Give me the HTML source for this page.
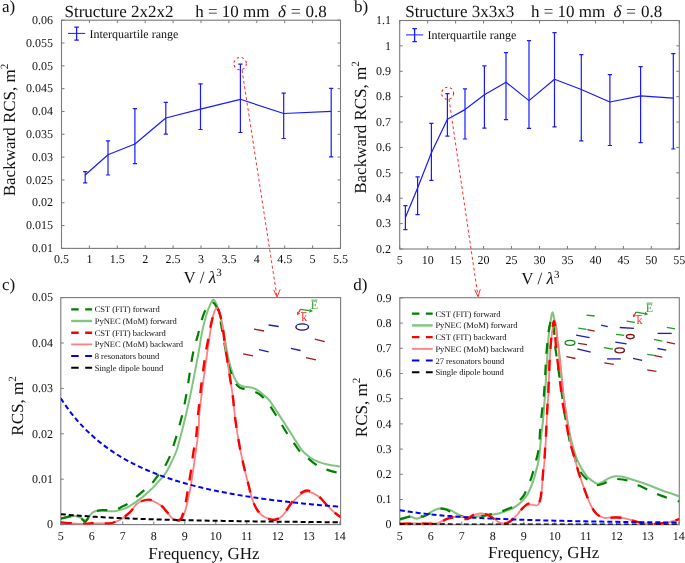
<!DOCTYPE html>
<html><head><meta charset="utf-8"><style>
html,body{margin:0;padding:0;background:#fff;}
svg{display:block;will-change:transform;}
text{font-family:"Liberation Serif",serif;fill:#111;text-rendering:geometricPrecision;}
</style></head><body>
<svg width="685" height="563" viewBox="0 0 685 563">
<rect width="685" height="563" fill="#fff"/>
<rect x="61.5" y="20.2" width="279.0" height="228.20000000000002" fill="none" stroke="#7a7a7a" stroke-width="1.1"/>
<path d="M61.50,248.4 v-3 M61.50,20.2 v3" stroke="#7a7a7a" stroke-width="1"/>
<path d="M89.40,248.4 v-3 M89.40,20.2 v3" stroke="#7a7a7a" stroke-width="1"/>
<path d="M117.30,248.4 v-3 M117.30,20.2 v3" stroke="#7a7a7a" stroke-width="1"/>
<path d="M145.20,248.4 v-3 M145.20,20.2 v3" stroke="#7a7a7a" stroke-width="1"/>
<path d="M173.10,248.4 v-3 M173.10,20.2 v3" stroke="#7a7a7a" stroke-width="1"/>
<path d="M201.00,248.4 v-3 M201.00,20.2 v3" stroke="#7a7a7a" stroke-width="1"/>
<path d="M228.90,248.4 v-3 M228.90,20.2 v3" stroke="#7a7a7a" stroke-width="1"/>
<path d="M256.80,248.4 v-3 M256.80,20.2 v3" stroke="#7a7a7a" stroke-width="1"/>
<path d="M284.70,248.4 v-3 M284.70,20.2 v3" stroke="#7a7a7a" stroke-width="1"/>
<path d="M312.60,248.4 v-3 M312.60,20.2 v3" stroke="#7a7a7a" stroke-width="1"/>
<path d="M340.50,248.4 v-3 M340.50,20.2 v3" stroke="#7a7a7a" stroke-width="1"/>
<path d="M61.5,20.20 h3 M340.5,20.20 h-3" stroke="#7a7a7a" stroke-width="1"/>
<path d="M61.5,43.02 h3 M340.5,43.02 h-3" stroke="#7a7a7a" stroke-width="1"/>
<path d="M61.5,65.84 h3 M340.5,65.84 h-3" stroke="#7a7a7a" stroke-width="1"/>
<path d="M61.5,88.66 h3 M340.5,88.66 h-3" stroke="#7a7a7a" stroke-width="1"/>
<path d="M61.5,111.48 h3 M340.5,111.48 h-3" stroke="#7a7a7a" stroke-width="1"/>
<path d="M61.5,134.30 h3 M340.5,134.30 h-3" stroke="#7a7a7a" stroke-width="1"/>
<path d="M61.5,157.12 h3 M340.5,157.12 h-3" stroke="#7a7a7a" stroke-width="1"/>
<path d="M61.5,179.94 h3 M340.5,179.94 h-3" stroke="#7a7a7a" stroke-width="1"/>
<path d="M61.5,202.76 h3 M340.5,202.76 h-3" stroke="#7a7a7a" stroke-width="1"/>
<path d="M61.5,225.58 h3 M340.5,225.58 h-3" stroke="#7a7a7a" stroke-width="1"/>
<path d="M61.5,248.40 h3 M340.5,248.40 h-3" stroke="#7a7a7a" stroke-width="1"/>
<text x="61.50" y="263.00" font-size="12" text-anchor="middle" >0.5</text>
<text x="89.40" y="263.00" font-size="12" text-anchor="middle" >1</text>
<text x="117.30" y="263.00" font-size="12" text-anchor="middle" >1.5</text>
<text x="145.20" y="263.00" font-size="12" text-anchor="middle" >2</text>
<text x="173.10" y="263.00" font-size="12" text-anchor="middle" >2.5</text>
<text x="201.00" y="263.00" font-size="12" text-anchor="middle" >3</text>
<text x="228.90" y="263.00" font-size="12" text-anchor="middle" >3.5</text>
<text x="256.80" y="263.00" font-size="12" text-anchor="middle" >4</text>
<text x="284.70" y="263.00" font-size="12" text-anchor="middle" >4.5</text>
<text x="312.60" y="263.00" font-size="12" text-anchor="middle" >5</text>
<text x="340.50" y="263.00" font-size="12" text-anchor="middle" >5.5</text>
<text x="53.00" y="23.90" font-size="12" text-anchor="end" >0.06</text>
<text x="53.00" y="46.72" font-size="12" text-anchor="end" >0.055</text>
<text x="53.00" y="69.54" font-size="12" text-anchor="end" >0.05</text>
<text x="53.00" y="92.36" font-size="12" text-anchor="end" >0.045</text>
<text x="53.00" y="115.18" font-size="12" text-anchor="end" >0.04</text>
<text x="53.00" y="138.00" font-size="12" text-anchor="end" >0.035</text>
<text x="53.00" y="160.82" font-size="12" text-anchor="end" >0.03</text>
<text x="53.00" y="183.64" font-size="12" text-anchor="end" >0.025</text>
<text x="53.00" y="206.46" font-size="12" text-anchor="end" >0.02</text>
<text x="53.00" y="229.28" font-size="12" text-anchor="end" >0.015</text>
<text x="53.00" y="252.10" font-size="12" text-anchor="end" >0.01</text>
<rect x="399.7" y="20.5" width="279.59999999999997" height="228.5" fill="none" stroke="#7a7a7a" stroke-width="1.1"/>
<path d="M399.70,249.0 v-3 M399.70,20.5 v3" stroke="#7a7a7a" stroke-width="1"/>
<path d="M427.66,249.0 v-3 M427.66,20.5 v3" stroke="#7a7a7a" stroke-width="1"/>
<path d="M455.62,249.0 v-3 M455.62,20.5 v3" stroke="#7a7a7a" stroke-width="1"/>
<path d="M483.58,249.0 v-3 M483.58,20.5 v3" stroke="#7a7a7a" stroke-width="1"/>
<path d="M511.54,249.0 v-3 M511.54,20.5 v3" stroke="#7a7a7a" stroke-width="1"/>
<path d="M539.50,249.0 v-3 M539.50,20.5 v3" stroke="#7a7a7a" stroke-width="1"/>
<path d="M567.46,249.0 v-3 M567.46,20.5 v3" stroke="#7a7a7a" stroke-width="1"/>
<path d="M595.42,249.0 v-3 M595.42,20.5 v3" stroke="#7a7a7a" stroke-width="1"/>
<path d="M623.38,249.0 v-3 M623.38,20.5 v3" stroke="#7a7a7a" stroke-width="1"/>
<path d="M651.34,249.0 v-3 M651.34,20.5 v3" stroke="#7a7a7a" stroke-width="1"/>
<path d="M679.30,249.0 v-3 M679.30,20.5 v3" stroke="#7a7a7a" stroke-width="1"/>
<path d="M399.7,20.50 h3 M679.3,20.50 h-3" stroke="#7a7a7a" stroke-width="1"/>
<path d="M399.7,45.89 h3 M679.3,45.89 h-3" stroke="#7a7a7a" stroke-width="1"/>
<path d="M399.7,71.28 h3 M679.3,71.28 h-3" stroke="#7a7a7a" stroke-width="1"/>
<path d="M399.7,96.67 h3 M679.3,96.67 h-3" stroke="#7a7a7a" stroke-width="1"/>
<path d="M399.7,122.06 h3 M679.3,122.06 h-3" stroke="#7a7a7a" stroke-width="1"/>
<path d="M399.7,147.45 h3 M679.3,147.45 h-3" stroke="#7a7a7a" stroke-width="1"/>
<path d="M399.7,172.84 h3 M679.3,172.84 h-3" stroke="#7a7a7a" stroke-width="1"/>
<path d="M399.7,198.23 h3 M679.3,198.23 h-3" stroke="#7a7a7a" stroke-width="1"/>
<path d="M399.7,223.62 h3 M679.3,223.62 h-3" stroke="#7a7a7a" stroke-width="1"/>
<path d="M399.7,249.01 h3 M679.3,249.01 h-3" stroke="#7a7a7a" stroke-width="1"/>
<text x="399.70" y="263.50" font-size="12" text-anchor="middle" >5</text>
<text x="427.66" y="263.50" font-size="12" text-anchor="middle" >10</text>
<text x="455.62" y="263.50" font-size="12" text-anchor="middle" >15</text>
<text x="483.58" y="263.50" font-size="12" text-anchor="middle" >20</text>
<text x="511.54" y="263.50" font-size="12" text-anchor="middle" >25</text>
<text x="539.50" y="263.50" font-size="12" text-anchor="middle" >30</text>
<text x="567.46" y="263.50" font-size="12" text-anchor="middle" >35</text>
<text x="595.42" y="263.50" font-size="12" text-anchor="middle" >40</text>
<text x="623.38" y="263.50" font-size="12" text-anchor="middle" >45</text>
<text x="651.34" y="263.50" font-size="12" text-anchor="middle" >50</text>
<text x="679.30" y="263.50" font-size="12" text-anchor="middle" >55</text>
<text x="391.00" y="24.20" font-size="12" text-anchor="end" >1.1</text>
<text x="391.00" y="49.59" font-size="12" text-anchor="end" >1</text>
<text x="391.00" y="74.98" font-size="12" text-anchor="end" >0.9</text>
<text x="391.00" y="100.37" font-size="12" text-anchor="end" >0.8</text>
<text x="391.00" y="125.76" font-size="12" text-anchor="end" >0.7</text>
<text x="391.00" y="151.15" font-size="12" text-anchor="end" >0.6</text>
<text x="391.00" y="176.54" font-size="12" text-anchor="end" >0.5</text>
<text x="391.00" y="201.93" font-size="12" text-anchor="end" >0.4</text>
<text x="391.00" y="227.32" font-size="12" text-anchor="end" >0.3</text>
<text x="391.00" y="252.71" font-size="12" text-anchor="end" >0.2</text>
<path d="M85.20,175.00 L108.00,154.70 L134.90,144.00 L165.80,118.00 L200.50,109.10 L240.40,99.30 L283.70,113.50 L331.20,111.30" fill="none" stroke="#1a1aff" stroke-width="1.2" stroke-linejoin="round"/>
<path d="M85.20,171.70 V182.90 M83.10,171.70 h4.2 M83.10,182.90 h4.2" stroke="#1a1aff" stroke-width="1.2" fill="none"/>
<path d="M108.00,140.80 V175.00 M105.90,140.80 h4.2 M105.90,175.00 h4.2" stroke="#1a1aff" stroke-width="1.2" fill="none"/>
<path d="M134.90,108.70 V163.60 M132.80,108.70 h4.2 M132.80,163.60 h4.2" stroke="#1a1aff" stroke-width="1.2" fill="none"/>
<path d="M165.80,102.30 V134.20 M163.70,102.30 h4.2 M163.70,134.20 h4.2" stroke="#1a1aff" stroke-width="1.2" fill="none"/>
<path d="M200.50,83.90 V129.50 M198.40,83.90 h4.2 M198.40,129.50 h4.2" stroke="#1a1aff" stroke-width="1.2" fill="none"/>
<path d="M240.40,64.20 V132.50 M238.30,64.20 h4.2 M238.30,132.50 h4.2" stroke="#1a1aff" stroke-width="1.2" fill="none"/>
<path d="M283.70,93.10 V138.50 M281.60,93.10 h4.2 M281.60,138.50 h4.2" stroke="#1a1aff" stroke-width="1.2" fill="none"/>
<path d="M331.20,88.30 V156.90 M329.10,88.30 h4.2 M329.10,156.90 h4.2" stroke="#1a1aff" stroke-width="1.2" fill="none"/>
<path d="M405.40,217.40 L417.60,188.00 L431.40,152.80 L447.40,119.20 L465.00,109.60 L484.40,94.70 L506.00,82.20 L529.00,100.60 L554.50,79.30 L581.30,89.50 L609.90,102.00 L640.60,95.90 L673.30,98.20" fill="none" stroke="#1a1aff" stroke-width="1.2" stroke-linejoin="round"/>
<path d="M405.40,205.60 V229.60 M403.30,205.60 h4.2 M403.30,229.60 h4.2" stroke="#1a1aff" stroke-width="1.2" fill="none"/>
<path d="M417.60,176.80 V214.60 M415.50,176.80 h4.2 M415.50,214.60 h4.2" stroke="#1a1aff" stroke-width="1.2" fill="none"/>
<path d="M431.40,123.40 V180.30 M429.30,123.40 h4.2 M429.30,180.30 h4.2" stroke="#1a1aff" stroke-width="1.2" fill="none"/>
<path d="M447.40,93.60 V136.20 M445.30,93.60 h4.2 M445.30,136.20 h4.2" stroke="#1a1aff" stroke-width="1.2" fill="none"/>
<path d="M465.00,88.80 V139.00 M462.90,88.80 h4.2 M462.90,139.00 h4.2" stroke="#1a1aff" stroke-width="1.2" fill="none"/>
<path d="M484.40,65.80 V128.20 M482.30,65.80 h4.2 M482.30,128.20 h4.2" stroke="#1a1aff" stroke-width="1.2" fill="none"/>
<path d="M506.00,52.70 V119.60 M503.90,52.70 h4.2 M503.90,119.60 h4.2" stroke="#1a1aff" stroke-width="1.2" fill="none"/>
<path d="M529.00,40.70 V128.30 M526.90,40.70 h4.2 M526.90,128.30 h4.2" stroke="#1a1aff" stroke-width="1.2" fill="none"/>
<path d="M554.50,32.60 V126.90 M552.40,32.60 h4.2 M552.40,126.90 h4.2" stroke="#1a1aff" stroke-width="1.2" fill="none"/>
<path d="M581.30,54.70 V140.90 M579.20,54.70 h4.2 M579.20,140.90 h4.2" stroke="#1a1aff" stroke-width="1.2" fill="none"/>
<path d="M609.90,74.60 V145.50 M607.80,74.60 h4.2 M607.80,145.50 h4.2" stroke="#1a1aff" stroke-width="1.2" fill="none"/>
<path d="M640.60,66.70 V142.60 M638.50,66.70 h4.2 M638.50,142.60 h4.2" stroke="#1a1aff" stroke-width="1.2" fill="none"/>
<path d="M673.30,53.60 V149.00 M671.20,53.60 h4.2 M671.20,149.00 h4.2" stroke="#1a1aff" stroke-width="1.2" fill="none"/>
<path d="M68,33.4 h17.2" stroke="#1a1aff" stroke-width="1.0" fill="none"/>
<path d="M76.60,27.10 v13 M74.30,27.10 h4.6 M74.30,40.10 h4.6" stroke="#1a1aff" stroke-width="1.3" fill="none"/>
<text x="89.40" y="37.80" font-size="12" text-anchor="start" >Interquartile range</text>
<path d="M406,34.9 h17.2" stroke="#1a1aff" stroke-width="1.0" fill="none"/>
<path d="M414.60,28.60 v13 M412.30,28.60 h4.6 M412.30,41.60 h4.6" stroke="#1a1aff" stroke-width="1.3" fill="none"/>
<text x="427.40" y="39.10" font-size="12" text-anchor="start" >Interquartile range</text>
<text x="64.5" y="16.7" font-size="17">Structure 2x2x2</text>
<text x="195.2" y="16.7" font-size="17">h = 10 mm</text>
<text x="278.1" y="16.7" font-size="17" font-style="italic">δ</text>
<text x="290.70" y="16.7" font-size="17" textLength="10" lengthAdjust="spacingAndGlyphs">=</text>
<text x="305.50" y="16.7" font-size="17">0.8</text>
<text x="405.2" y="16.7" font-size="17">Structure 3x3x3</text>
<text x="531" y="16.7" font-size="17">h = 10 mm</text>
<text x="613.5" y="16.7" font-size="17" font-style="italic">δ</text>
<text x="626.10" y="16.7" font-size="17" textLength="10" lengthAdjust="spacingAndGlyphs">=</text>
<text x="640.90" y="16.7" font-size="17">0.8</text>
<text x="2.00" y="12.00" font-size="17" text-anchor="start" >a)</text>
<text x="354.00" y="12.00" font-size="17" text-anchor="start" >b)</text>
<text x="2.00" y="290.00" font-size="17" text-anchor="start" >c)</text>
<text x="353.20" y="289.50" font-size="17" text-anchor="start" >d)</text>
<text transform="translate(14.5,130) rotate(-90)" x="0" y="0" font-size="17" text-anchor="middle">Backward RCS, m<tspan font-size="11" dy="-7">2</tspan></text>
<text transform="translate(366.3,127.5) rotate(-90)" x="0" y="0" font-size="17" text-anchor="middle">Backward RCS, m<tspan font-size="11" dy="-7">2</tspan></text>
<text transform="translate(23.3,406) rotate(-90)" x="0" y="0" font-size="17" text-anchor="middle">RCS, m<tspan font-size="11" dy="-7">2</tspan></text>
<text transform="translate(367.2,407.5) rotate(-90)" x="0" y="0" font-size="17" text-anchor="middle">RCS, m<tspan font-size="11" dy="-7">2</tspan></text>
<text x="183.6" y="283.4" font-size="17">V / <tspan font-style="italic">λ</tspan><tspan font-size="11" dy="-7">3</tspan></text>
<text x="521.3" y="283.6" font-size="17">V / <tspan font-style="italic">λ</tspan><tspan font-size="11" dy="-5.8">3</tspan></text>
<text x="148.30" y="558.50" font-size="17" text-anchor="start" >Frequency, GHz</text>
<text x="488.10" y="557.50" font-size="17" text-anchor="start" >Frequency, GHz</text>
<rect x="60.8" y="297.6" width="279.8" height="227.0" fill="none" stroke="#7a7a7a" stroke-width="1.1"/>
<path d="M60.80,524.6 v-3" stroke="#7a7a7a" stroke-width="1"/>
<path d="M91.80,524.6 v-3" stroke="#7a7a7a" stroke-width="1"/>
<path d="M122.80,524.6 v-3" stroke="#7a7a7a" stroke-width="1"/>
<path d="M153.80,524.6 v-3" stroke="#7a7a7a" stroke-width="1"/>
<path d="M184.80,524.6 v-3" stroke="#7a7a7a" stroke-width="1"/>
<path d="M215.80,524.6 v-3" stroke="#7a7a7a" stroke-width="1"/>
<path d="M246.80,524.6 v-3" stroke="#7a7a7a" stroke-width="1"/>
<path d="M277.80,524.6 v-3" stroke="#7a7a7a" stroke-width="1"/>
<path d="M308.80,524.6 v-3" stroke="#7a7a7a" stroke-width="1"/>
<path d="M339.80,524.6 v-3" stroke="#7a7a7a" stroke-width="1"/>
<path d="M60.8,524.60 h3" stroke="#7a7a7a" stroke-width="1"/>
<path d="M60.8,479.20 h3" stroke="#7a7a7a" stroke-width="1"/>
<path d="M60.8,433.80 h3" stroke="#7a7a7a" stroke-width="1"/>
<path d="M60.8,388.40 h3" stroke="#7a7a7a" stroke-width="1"/>
<path d="M60.8,343.00 h3" stroke="#7a7a7a" stroke-width="1"/>
<path d="M60.8,297.60 h3" stroke="#7a7a7a" stroke-width="1"/>
<text x="60.80" y="539.60" font-size="12" text-anchor="middle" >5</text>
<text x="91.80" y="539.60" font-size="12" text-anchor="middle" >6</text>
<text x="122.80" y="539.60" font-size="12" text-anchor="middle" >7</text>
<text x="153.80" y="539.60" font-size="12" text-anchor="middle" >8</text>
<text x="184.80" y="539.60" font-size="12" text-anchor="middle" >9</text>
<text x="215.80" y="539.60" font-size="12" text-anchor="middle" >10</text>
<text x="246.80" y="539.60" font-size="12" text-anchor="middle" >11</text>
<text x="277.80" y="539.60" font-size="12" text-anchor="middle" >12</text>
<text x="308.80" y="539.60" font-size="12" text-anchor="middle" >13</text>
<text x="339.80" y="539.60" font-size="12" text-anchor="middle" >14</text>
<text x="53.00" y="528.30" font-size="12" text-anchor="end" >0</text>
<text x="53.00" y="482.90" font-size="12" text-anchor="end" >0.01</text>
<text x="53.00" y="437.50" font-size="12" text-anchor="end" >0.02</text>
<text x="53.00" y="392.10" font-size="12" text-anchor="end" >0.03</text>
<text x="53.00" y="346.70" font-size="12" text-anchor="end" >0.04</text>
<text x="53.00" y="301.30" font-size="12" text-anchor="end" >0.05</text>
<rect x="399.8" y="297.7" width="279.49999999999994" height="227.00000000000006" fill="none" stroke="#7a7a7a" stroke-width="1.1"/>
<path d="M399.80,524.7 v-3" stroke="#7a7a7a" stroke-width="1"/>
<path d="M430.80,524.7 v-3" stroke="#7a7a7a" stroke-width="1"/>
<path d="M461.80,524.7 v-3" stroke="#7a7a7a" stroke-width="1"/>
<path d="M492.80,524.7 v-3" stroke="#7a7a7a" stroke-width="1"/>
<path d="M523.80,524.7 v-3" stroke="#7a7a7a" stroke-width="1"/>
<path d="M554.80,524.7 v-3" stroke="#7a7a7a" stroke-width="1"/>
<path d="M585.80,524.7 v-3" stroke="#7a7a7a" stroke-width="1"/>
<path d="M616.80,524.7 v-3" stroke="#7a7a7a" stroke-width="1"/>
<path d="M647.80,524.7 v-3" stroke="#7a7a7a" stroke-width="1"/>
<path d="M678.80,524.7 v-3" stroke="#7a7a7a" stroke-width="1"/>
<path d="M399.8,524.70 h3" stroke="#7a7a7a" stroke-width="1"/>
<path d="M399.8,499.50 h3" stroke="#7a7a7a" stroke-width="1"/>
<path d="M399.8,474.30 h3" stroke="#7a7a7a" stroke-width="1"/>
<path d="M399.8,449.10 h3" stroke="#7a7a7a" stroke-width="1"/>
<path d="M399.8,423.90 h3" stroke="#7a7a7a" stroke-width="1"/>
<path d="M399.8,398.70 h3" stroke="#7a7a7a" stroke-width="1"/>
<path d="M399.8,373.50 h3" stroke="#7a7a7a" stroke-width="1"/>
<path d="M399.8,348.30 h3" stroke="#7a7a7a" stroke-width="1"/>
<path d="M399.8,323.10 h3" stroke="#7a7a7a" stroke-width="1"/>
<path d="M399.8,297.90 h3" stroke="#7a7a7a" stroke-width="1"/>
<text x="399.80" y="539.60" font-size="12" text-anchor="middle" >5</text>
<text x="430.80" y="539.60" font-size="12" text-anchor="middle" >6</text>
<text x="461.80" y="539.60" font-size="12" text-anchor="middle" >7</text>
<text x="492.80" y="539.60" font-size="12" text-anchor="middle" >8</text>
<text x="523.80" y="539.60" font-size="12" text-anchor="middle" >9</text>
<text x="554.80" y="539.60" font-size="12" text-anchor="middle" >10</text>
<text x="585.80" y="539.60" font-size="12" text-anchor="middle" >11</text>
<text x="616.80" y="539.60" font-size="12" text-anchor="middle" >12</text>
<text x="647.80" y="539.60" font-size="12" text-anchor="middle" >13</text>
<text x="678.80" y="539.60" font-size="12" text-anchor="middle" >14</text>
<text x="391.50" y="528.40" font-size="12" text-anchor="end" >0</text>
<text x="391.50" y="503.20" font-size="12" text-anchor="end" >0.1</text>
<text x="391.50" y="478.00" font-size="12" text-anchor="end" >0.2</text>
<text x="391.50" y="452.80" font-size="12" text-anchor="end" >0.3</text>
<text x="391.50" y="427.60" font-size="12" text-anchor="end" >0.4</text>
<text x="391.50" y="402.40" font-size="12" text-anchor="end" >0.5</text>
<text x="391.50" y="377.20" font-size="12" text-anchor="end" >0.6</text>
<text x="391.50" y="352.00" font-size="12" text-anchor="end" >0.7</text>
<text x="391.50" y="326.80" font-size="12" text-anchor="end" >0.8</text>
<text x="391.50" y="301.60" font-size="12" text-anchor="end" >0.9</text>
<defs><clipPath id="cc"><rect x="60.8" y="297.6" width="279.8" height="227"/></clipPath><clipPath id="dc"><rect x="399.8" y="297.7" width="279.5" height="227"/></clipPath></defs>
<g clip-path="url(#cc)">
<path d="M60.80,518.40 C61.63,518.20 63.98,517.57 65.80,517.20 C67.62,516.83 69.93,516.37 71.70,516.20 C73.47,516.03 74.95,515.97 76.40,516.20 C77.85,516.43 79.23,517.03 80.40,517.60 C81.57,518.17 82.55,519.12 83.40,519.60 C84.25,520.08 84.82,520.60 85.50,520.50 C86.18,520.40 86.83,519.75 87.50,519.00 C88.17,518.25 88.73,517.00 89.50,516.00 C90.27,515.00 91.18,513.80 92.10,513.00 C93.02,512.20 93.68,511.60 95.00,511.20 C96.32,510.80 98.33,510.65 100.00,510.60 C101.67,510.55 103.38,510.78 105.00,510.90 C106.62,511.02 108.03,511.25 109.70,511.30 C111.37,511.35 113.28,511.42 115.00,511.20 C116.72,510.98 118.33,510.48 120.00,510.00 C121.67,509.52 123.33,509.00 125.00,508.30 C126.67,507.60 127.33,507.45 130.00,505.80 C132.67,504.15 137.67,500.95 141.00,498.40 C144.33,495.85 147.33,493.03 150.00,490.50 C152.67,487.97 154.50,485.95 157.00,483.20 C159.50,480.45 162.87,476.93 165.00,474.00 C167.13,471.07 167.83,469.60 169.80,465.60 C171.77,461.60 174.73,455.93 176.80,450.00 C178.87,444.07 181.05,434.32 182.20,430.00 C183.35,425.68 182.47,429.32 183.70,424.10 C184.93,418.88 187.65,407.83 189.60,398.70 C191.55,389.57 193.83,377.42 195.40,369.30 C196.97,361.18 197.88,356.22 199.00,350.00 C200.12,343.78 200.98,337.47 202.10,332.00 C203.22,326.53 204.72,320.87 205.70,317.20 C206.68,313.53 207.27,312.07 208.00,310.00 C208.73,307.93 209.43,306.30 210.10,304.80 C210.77,303.30 211.40,301.87 212.00,301.00 C212.60,300.13 213.05,299.27 213.70,299.60 C214.35,299.93 215.17,301.40 215.90,303.00 C216.63,304.60 217.28,306.68 218.10,309.20 C218.92,311.72 219.92,314.53 220.80,318.10 C221.68,321.67 222.58,326.28 223.40,330.60 C224.22,334.92 224.82,339.17 225.70,344.00 C226.58,348.83 227.55,354.73 228.70,359.60 C229.85,364.47 231.38,369.63 232.60,373.20 C233.82,376.77 234.77,379.00 236.00,381.00 C237.23,383.00 238.50,384.23 240.00,385.20 C241.50,386.17 243.12,386.42 245.00,386.80 C246.88,387.18 249.15,386.92 251.30,387.50 C253.45,388.08 255.95,389.13 257.90,390.30 C259.85,391.47 261.03,392.75 263.00,394.50 C264.97,396.25 266.97,397.32 269.70,400.80 C272.43,404.28 276.30,410.68 279.40,415.40 C282.50,420.12 285.77,425.13 288.30,429.10 C290.83,433.07 292.32,435.67 294.60,439.20 C296.88,442.73 299.93,447.67 302.00,450.30 C304.07,452.93 305.23,453.52 307.00,455.00 C308.77,456.48 310.77,458.10 312.60,459.20 C314.43,460.30 316.25,460.90 318.00,461.60 C319.75,462.30 321.10,462.83 323.10,463.40 C325.10,463.97 327.22,464.50 330.00,465.00 C332.78,465.50 338.17,466.17 339.80,466.40" fill="none" stroke="#80c480" stroke-width="2.0" stroke-linejoin="round"/>
<path d="M60.80,518.60 C61.63,518.40 63.98,517.80 65.80,517.40 C67.62,517.00 69.93,516.40 71.70,516.20 C73.47,516.00 74.95,515.93 76.40,516.20 C77.85,516.47 79.23,517.10 80.40,517.80 C81.57,518.50 82.62,519.72 83.40,520.40 C84.18,521.08 84.52,521.98 85.10,521.90 C85.68,521.82 86.22,520.82 86.90,519.90 C87.58,518.98 88.33,517.48 89.20,516.40 C90.07,515.32 91.13,514.18 92.10,513.40 C93.07,512.62 93.68,512.22 95.00,511.70 C96.32,511.18 98.33,510.55 100.00,510.30 C101.67,510.05 103.38,510.22 105.00,510.20 C106.62,510.18 107.87,510.32 109.70,510.20 C111.53,510.08 114.03,510.03 116.00,509.50 C117.97,508.97 119.17,508.20 121.50,507.00 C123.83,505.80 126.75,504.67 130.00,502.30 C133.25,499.93 137.67,495.60 141.00,492.80 C144.33,490.00 147.33,488.17 150.00,485.50 C152.67,482.83 154.77,479.58 157.00,476.80 C159.23,474.02 161.35,472.00 163.40,468.80 C165.45,465.60 167.72,461.15 169.30,457.60 C170.88,454.05 171.32,452.43 172.90,447.50 C174.48,442.57 177.00,434.52 178.80,428.00 C180.60,421.48 182.23,415.25 183.70,408.40 C185.17,401.55 186.30,394.72 187.60,386.90 C188.90,379.08 190.43,367.82 191.50,361.50 C192.57,355.18 193.18,352.58 194.00,349.00 C194.82,345.42 195.78,342.18 196.40,340.00 C197.02,337.82 196.97,338.67 197.70,335.90 C198.43,333.13 199.77,327.10 200.80,323.40 C201.83,319.70 202.87,316.35 203.90,313.70 C204.93,311.05 205.95,309.18 207.00,307.50 C208.05,305.82 209.32,304.45 210.20,303.60 C211.08,302.75 211.62,302.43 212.30,302.40 C212.98,302.37 213.63,302.70 214.30,303.40 C214.97,304.10 215.52,305.03 216.30,306.60 C217.08,308.17 218.25,310.13 219.00,312.80 C219.75,315.47 220.23,319.35 220.80,322.60 C221.37,325.85 221.78,328.73 222.40,332.30 C223.02,335.87 223.73,339.72 224.50,344.00 C225.27,348.28 226.30,354.33 227.00,358.00 C227.70,361.67 227.77,362.80 228.70,366.00 C229.63,369.20 231.48,374.33 232.60,377.20 C233.72,380.07 234.27,381.52 235.40,383.20 C236.53,384.88 238.13,386.40 239.40,387.30 C240.67,388.20 241.60,388.18 243.00,388.60 C244.40,389.02 245.97,389.32 247.80,389.80 C249.63,390.28 251.90,390.65 254.00,391.50 C256.10,392.35 258.12,393.03 260.40,394.90 C262.68,396.77 265.33,399.68 267.70,402.70 C270.07,405.72 272.52,409.77 274.60,413.00 C276.68,416.23 278.22,418.85 280.20,422.10 C282.18,425.35 284.42,429.30 286.50,432.50 C288.58,435.70 290.40,438.05 292.70,441.30 C295.00,444.55 297.87,449.25 300.30,452.00 C302.73,454.75 304.37,455.47 307.30,457.80 C310.23,460.13 314.68,464.03 317.90,466.00 C321.12,467.97 322.95,468.38 326.60,469.60 C330.25,470.82 337.60,472.68 339.80,473.30" fill="none" stroke="#008000" stroke-width="2.2" stroke-dasharray="10.5,11" stroke-linejoin="round"/>
<path d="M60.80,522.40 C62.62,522.57 67.65,523.13 71.70,523.40 C75.75,523.67 81.70,524.00 85.10,524.00 C88.50,524.00 89.62,523.52 92.10,523.40 C94.58,523.28 97.07,523.28 100.00,523.30 C102.93,523.32 107.03,523.78 109.70,523.50 C112.37,523.22 113.92,522.45 116.00,521.60 C118.08,520.75 119.87,519.97 122.20,518.40 C124.53,516.83 127.67,514.52 130.00,512.20 C132.33,509.88 134.20,506.37 136.20,504.50 C138.20,502.63 139.87,501.72 142.00,501.00 C144.13,500.28 146.83,500.03 149.00,500.20 C151.17,500.37 152.87,501.00 155.00,502.00 C157.13,503.00 159.80,504.53 161.80,506.20 C163.80,507.87 165.32,510.03 167.00,512.00 C168.68,513.97 169.93,516.55 171.90,518.00 C173.87,519.45 177.28,520.40 178.80,520.70 C180.32,521.00 180.13,520.83 181.00,519.80 C181.87,518.77 182.93,517.40 184.00,514.50 C185.07,511.60 186.25,507.28 187.40,502.40 C188.55,497.52 189.60,492.95 190.90,485.20 C192.20,477.45 193.92,465.10 195.20,455.90 C196.48,446.70 197.92,436.93 198.60,430.00 C199.28,423.07 198.68,421.15 199.30,414.30 C199.92,407.45 201.15,398.02 202.30,388.90 C203.45,379.78 205.07,367.75 206.20,359.60 C207.33,351.45 208.17,346.27 209.10,340.00 C210.03,333.73 210.95,326.67 211.80,322.00 C212.65,317.33 213.42,314.33 214.20,312.00 C214.98,309.67 215.70,308.25 216.50,308.00 C217.30,307.75 218.13,308.22 219.00,310.50 C219.87,312.78 220.97,318.07 221.70,321.70 C222.43,325.33 222.88,328.60 223.40,332.30 C223.92,336.00 223.92,337.73 224.80,343.90 C225.68,350.07 227.40,360.82 228.70,369.30 C230.00,377.78 231.48,386.35 232.60,394.80 C233.72,403.25 234.20,411.23 235.40,420.00 C236.60,428.77 238.25,439.08 239.80,447.40 C241.35,455.72 243.37,464.13 244.70,469.90 C246.03,475.67 246.42,476.77 247.80,482.00 C249.18,487.23 250.97,496.03 253.00,501.30 C255.03,506.57 257.37,510.68 260.00,513.60 C262.63,516.52 266.17,517.78 268.80,518.80 C271.43,519.82 273.47,520.28 275.80,519.70 C278.13,519.12 279.88,518.37 282.80,515.30 C285.72,512.23 290.08,504.95 293.30,501.30 C296.52,497.65 299.62,495.00 302.10,493.40 C304.58,491.80 305.57,491.27 308.20,491.70 C310.83,492.13 314.83,493.82 317.90,496.00 C320.97,498.18 323.98,502.17 326.60,504.80 C329.22,507.43 331.27,509.75 333.60,511.80 C335.93,513.85 339.43,516.22 340.60,517.10" fill="none" stroke="#ff8080" stroke-width="1.8" stroke-linejoin="round"/>
<path d="M60.80,522.40 C62.62,522.53 67.65,522.97 71.70,523.20 C75.75,523.43 81.70,523.78 85.10,523.80 C88.50,523.82 89.62,523.40 92.10,523.30 C94.58,523.20 97.07,523.17 100.00,523.20 C102.93,523.23 107.03,523.78 109.70,523.50 C112.37,523.22 113.92,522.35 116.00,521.50 C118.08,520.65 119.87,519.95 122.20,518.40 C124.53,516.85 127.67,514.43 130.00,512.20 C132.33,509.97 134.20,506.87 136.20,505.00 C138.20,503.13 139.87,501.90 142.00,501.00 C144.13,500.10 146.83,499.52 149.00,499.60 C151.17,499.68 152.87,500.43 155.00,501.50 C157.13,502.57 159.80,504.25 161.80,506.00 C163.80,507.75 165.32,510.02 167.00,512.00 C168.68,513.98 170.22,516.48 171.90,517.90 C173.58,519.32 175.75,520.23 177.10,520.50 C178.45,520.77 179.15,520.22 180.00,519.50 C180.85,518.78 181.25,519.05 182.20,516.20 C183.15,513.35 184.68,507.28 185.70,502.40 C186.72,497.52 187.43,492.07 188.30,486.90 C189.17,481.73 190.05,477.15 190.90,471.40 C191.75,465.65 192.55,457.87 193.40,452.40 C194.25,446.93 195.33,443.67 196.00,438.60 C196.67,433.53 196.85,427.93 197.40,422.00 C197.95,416.07 198.65,409.17 199.30,403.00 C199.95,396.83 200.32,392.83 201.30,385.00 C202.28,377.17 204.07,363.50 205.20,356.00 C206.33,348.50 207.13,345.28 208.10,340.00 C209.07,334.72 209.97,329.00 211.00,324.30 C212.03,319.60 213.38,314.45 214.30,311.80 C215.22,309.15 215.75,308.57 216.50,308.40 C217.25,308.23 217.93,308.58 218.80,310.80 C219.67,313.02 220.93,318.12 221.70,321.70 C222.47,325.28 222.88,328.60 223.40,332.30 C223.92,336.00 223.92,337.73 224.80,343.90 C225.68,350.07 227.40,360.82 228.70,369.30 C230.00,377.78 231.48,386.35 232.60,394.80 C233.72,403.25 234.20,411.23 235.40,420.00 C236.60,428.77 238.25,439.08 239.80,447.40 C241.35,455.72 243.37,464.13 244.70,469.90 C246.03,475.67 246.42,476.77 247.80,482.00 C249.18,487.23 250.97,496.03 253.00,501.30 C255.03,506.57 257.37,510.68 260.00,513.60 C262.63,516.52 266.17,517.82 268.80,518.80 C271.43,519.78 273.47,520.13 275.80,519.50 C278.13,518.87 279.88,518.17 282.80,515.00 C285.72,511.83 290.08,504.30 293.30,500.50 C296.52,496.70 299.62,493.85 302.10,492.20 C304.58,490.55 305.57,490.05 308.20,490.60 C310.83,491.15 314.83,493.13 317.90,495.50 C320.97,497.87 323.98,502.08 326.60,504.80 C329.22,507.52 331.27,509.75 333.60,511.80 C335.93,513.85 339.43,516.22 340.60,517.10" fill="none" stroke="#ff0000" stroke-width="2.4" stroke-dasharray="11,11" stroke-linejoin="round"/>
<path d="M60.80,398.39 C62.09,400.25 65.97,406.08 68.55,409.56 C71.13,413.05 73.72,416.25 76.30,419.29 C78.88,422.34 81.47,425.15 84.05,427.82 C86.63,430.50 89.22,432.98 91.80,435.34 C94.38,437.70 96.97,439.90 99.55,442.00 C102.13,444.10 104.72,446.06 107.30,447.93 C109.88,449.81 112.47,451.56 115.05,453.24 C117.63,454.92 120.22,456.49 122.80,458.00 C125.38,459.51 127.97,460.93 130.55,462.30 C133.13,463.66 135.72,464.95 138.30,466.18 C140.88,467.42 143.47,468.59 146.05,469.71 C148.63,470.84 151.22,471.90 153.80,472.93 C156.38,473.95 158.97,474.92 161.55,475.86 C164.13,476.80 166.72,477.69 169.30,478.55 C171.88,479.41 174.47,480.23 177.05,481.02 C179.63,481.81 182.22,482.56 184.80,483.29 C187.38,484.02 189.97,484.71 192.55,485.38 C195.13,486.06 197.72,486.70 200.30,487.32 C202.88,487.94 205.47,488.54 208.05,489.12 C210.63,489.69 213.22,490.25 215.80,490.78 C218.38,491.32 220.97,491.83 223.55,492.33 C226.13,492.83 228.72,493.31 231.30,493.78 C233.88,494.24 236.47,494.69 239.05,495.12 C241.63,495.56 244.22,495.98 246.80,496.38 C249.38,496.79 251.97,497.18 254.55,497.56 C257.13,497.94 259.72,498.31 262.30,498.67 C264.88,499.03 267.47,499.37 270.05,499.71 C272.63,500.04 275.22,500.37 277.80,500.68 C280.38,501.00 282.97,501.30 285.55,501.60 C288.13,501.90 290.72,502.19 293.30,502.47 C295.88,502.75 298.47,503.02 301.05,503.29 C303.63,503.55 306.22,503.81 308.80,504.06 C311.38,504.31 313.97,504.55 316.55,504.79 C319.13,505.02 321.72,505.25 324.30,505.48 C326.88,505.70 329.47,505.92 332.05,506.13 C334.63,506.35 338.51,506.65 339.80,506.76" fill="none" stroke="#0000ff" stroke-width="2.0" stroke-dasharray="5,3" stroke-linejoin="round"/>
<path d="M60.80,514.16 C62.09,514.28 65.97,514.65 68.55,514.87 C71.13,515.10 73.72,515.31 76.30,515.51 C78.88,515.71 81.47,515.89 84.05,516.07 C86.63,516.25 89.22,516.42 91.80,516.58 C94.38,516.75 96.97,516.90 99.55,517.04 C102.13,517.19 104.72,517.33 107.30,517.46 C109.88,517.60 112.47,517.72 115.05,517.84 C117.63,517.96 120.22,518.08 122.80,518.19 C125.38,518.30 127.97,518.41 130.55,518.51 C133.13,518.61 135.72,518.71 138.30,518.80 C140.88,518.89 143.47,518.98 146.05,519.07 C148.63,519.16 151.22,519.24 153.80,519.32 C156.38,519.40 158.97,519.47 161.55,519.55 C164.13,519.62 166.72,519.69 169.30,519.76 C171.88,519.83 174.47,519.90 177.05,519.96 C179.63,520.03 182.22,520.09 184.80,520.15 C187.38,520.21 189.97,520.26 192.55,520.32 C195.13,520.38 197.72,520.43 200.30,520.48 C202.88,520.54 205.47,520.59 208.05,520.64 C210.63,520.68 213.22,520.73 215.80,520.78 C218.38,520.82 220.97,520.87 223.55,520.91 C226.13,520.96 228.72,521.00 231.30,521.04 C233.88,521.08 236.47,521.12 239.05,521.16 C241.63,521.20 244.22,521.23 246.80,521.27 C249.38,521.31 251.97,521.34 254.55,521.38 C257.13,521.41 259.72,521.45 262.30,521.48 C264.88,521.51 267.47,521.54 270.05,521.57 C272.63,521.61 275.22,521.64 277.80,521.67 C280.38,521.70 282.97,521.72 285.55,521.75 C288.13,521.78 290.72,521.81 293.30,521.83 C295.88,521.86 298.47,521.89 301.05,521.91 C303.63,521.94 306.22,521.96 308.80,521.99 C311.38,522.01 313.97,522.04 316.55,522.06 C319.13,522.08 321.72,522.10 324.30,522.13 C326.88,522.15 329.47,522.17 332.05,522.19 C334.63,522.21 338.51,522.24 339.80,522.25" fill="none" stroke="#000000" stroke-width="2.0" stroke-dasharray="5,3" stroke-linejoin="round"/>
</g>
<g clip-path="url(#dc)">
<path d="M399.80,519.90 C400.50,519.67 402.43,519.08 404.00,518.50 C405.57,517.92 407.70,516.57 409.20,516.40 C410.70,516.23 411.67,517.13 413.00,517.50 C414.33,517.87 415.53,518.77 417.20,518.60 C418.87,518.43 420.87,517.48 423.00,516.50 C425.13,515.52 427.83,513.85 430.00,512.70 C432.17,511.55 434.15,510.32 436.00,509.60 C437.85,508.88 439.27,508.45 441.10,508.40 C442.93,508.35 445.13,508.85 447.00,509.30 C448.87,509.75 450.47,510.23 452.30,511.10 C454.13,511.97 455.87,513.47 458.00,514.50 C460.13,515.53 462.93,516.85 465.10,517.30 C467.27,517.75 468.87,517.35 471.00,517.20 C473.13,517.05 475.15,516.80 477.90,516.40 C480.65,516.00 484.65,515.15 487.50,514.80 C490.35,514.45 492.58,514.67 495.00,514.30 C497.42,513.93 499.68,513.37 502.00,512.60 C504.32,511.83 506.73,510.63 508.90,509.70 C511.07,508.77 512.95,508.27 515.00,507.00 C517.05,505.73 519.13,504.17 521.20,502.10 C523.27,500.03 525.33,498.32 527.40,494.60 C529.47,490.88 532.17,483.73 533.60,479.80 C535.03,475.87 535.27,473.70 536.00,471.00 C536.73,468.30 537.45,466.27 538.00,463.60 C538.55,460.93 538.90,458.10 539.30,455.00 C539.70,451.90 540.03,448.67 540.40,445.00 C540.77,441.33 541.08,436.90 541.50,433.00 C541.92,429.10 542.48,425.77 542.90,421.60 C543.32,417.43 543.65,412.43 544.00,408.00 C544.35,403.57 544.63,400.50 545.00,395.00 C545.37,389.50 545.80,381.70 546.20,375.00 C546.60,368.30 547.05,360.63 547.40,354.80 C547.75,348.97 548.00,343.97 548.30,340.00 C548.60,336.03 548.90,333.65 549.20,331.00 C549.50,328.35 549.72,326.68 550.10,324.10 C550.48,321.52 551.08,317.47 551.50,315.50 C551.92,313.53 552.27,312.30 552.60,312.30 C552.93,312.30 553.22,314.35 553.50,315.50 C553.78,316.65 553.87,317.05 554.30,319.20 C554.73,321.35 555.58,324.93 556.10,328.40 C556.62,331.87 556.92,336.07 557.40,340.00 C557.88,343.93 558.52,348.00 559.00,352.00 C559.48,356.00 559.88,360.00 560.30,364.00 C560.72,368.00 561.13,372.33 561.50,376.00 C561.87,379.67 562.15,382.62 562.50,386.00 C562.85,389.38 562.93,391.47 563.60,396.30 C564.27,401.13 565.60,409.38 566.50,415.00 C567.40,420.62 568.17,425.58 569.00,430.00 C569.83,434.42 570.58,437.83 571.50,441.50 C572.42,445.17 573.57,448.98 574.50,452.00 C575.43,455.02 576.10,457.18 577.10,459.60 C578.10,462.02 579.25,464.23 580.50,466.50 C581.75,468.77 583.35,471.37 584.60,473.20 C585.85,475.03 586.73,476.23 588.00,477.50 C589.27,478.77 591.03,479.92 592.20,480.80 C593.37,481.68 594.00,482.30 595.00,482.80 C596.00,483.30 597.12,483.85 598.20,483.80 C599.28,483.75 600.23,483.13 601.50,482.50 C602.77,481.87 604.38,480.78 605.80,480.00 C607.22,479.22 608.47,478.42 610.00,477.80 C611.53,477.18 613.17,476.52 615.00,476.30 C616.83,476.08 618.82,476.17 621.00,476.50 C623.18,476.83 623.98,477.07 628.10,478.30 C632.22,479.53 640.10,481.90 645.70,483.90 C651.30,485.90 656.12,488.25 661.70,490.30 C667.28,492.35 676.28,495.22 679.20,496.20" fill="none" stroke="#80c480" stroke-width="2.1" stroke-linejoin="round"/>
<path d="M399.80,519.10 C401.37,518.70 407.00,517.28 409.20,516.70 C411.40,516.12 411.67,515.87 413.00,515.60 C414.33,515.33 415.95,515.03 417.20,515.10 C418.45,515.17 419.43,515.77 420.50,516.00 C421.57,516.23 422.02,516.92 423.60,516.50 C425.18,516.08 427.93,514.58 430.00,513.50 C432.07,512.42 434.15,510.80 436.00,510.00 C437.85,509.20 439.43,508.78 441.10,508.70 C442.77,508.62 444.40,508.97 446.00,509.50 C447.60,510.03 449.03,511.07 450.70,511.90 C452.37,512.73 454.13,513.73 456.00,514.50 C457.87,515.27 459.85,515.93 461.90,516.50 C463.95,517.07 466.45,517.73 468.30,517.90 C470.15,518.07 471.40,517.73 473.00,517.50 C474.60,517.27 475.48,516.90 477.90,516.50 C480.32,516.10 484.65,515.65 487.50,515.10 C490.35,514.55 492.58,513.85 495.00,513.20 C497.42,512.55 499.68,511.98 502.00,511.20 C504.32,510.42 506.73,509.40 508.90,508.50 C511.07,507.60 513.15,507.22 515.00,505.80 C516.85,504.38 518.45,501.87 520.00,500.00 C521.55,498.13 522.97,497.02 524.30,494.60 C525.63,492.18 526.87,488.18 528.00,485.50 C529.13,482.82 530.18,481.00 531.10,478.50 C532.02,476.00 532.77,473.18 533.50,470.50 C534.23,467.82 534.83,464.98 535.50,462.40 C536.17,459.82 536.88,457.90 537.50,455.00 C538.12,452.10 538.75,449.33 539.20,445.00 C539.65,440.67 539.77,434.32 540.20,429.00 C540.63,423.68 541.20,418.60 541.80,413.10 C542.40,407.60 543.23,402.35 543.80,396.00 C544.37,389.65 544.78,381.83 545.20,375.00 C545.62,368.17 545.75,362.17 546.30,355.00 C546.85,347.83 547.80,337.50 548.50,332.00 C549.20,326.50 549.87,324.33 550.50,322.00 C551.13,319.67 551.83,317.83 552.30,318.00 C552.77,318.17 552.98,320.50 553.30,323.00 C553.62,325.50 553.92,329.33 554.20,333.00 C554.48,336.67 554.63,341.33 555.00,345.00 C555.37,348.67 555.93,351.67 556.40,355.00 C556.87,358.33 557.33,361.67 557.80,365.00 C558.27,368.33 558.73,371.67 559.20,375.00 C559.67,378.33 560.13,381.67 560.60,385.00 C561.07,388.33 561.53,391.67 562.00,395.00 C562.47,398.33 562.97,401.92 563.40,405.00 C563.83,408.08 563.97,409.78 564.60,413.50 C565.23,417.22 566.32,422.52 567.20,427.30 C568.08,432.08 569.10,438.42 569.90,442.20 C570.70,445.98 571.23,447.53 572.00,450.00 C572.77,452.47 573.65,454.38 574.50,457.00 C575.35,459.62 576.10,463.20 577.10,465.70 C578.10,468.20 579.25,470.12 580.50,472.00 C581.75,473.88 583.02,475.33 584.60,477.00 C586.18,478.67 587.98,480.67 590.00,482.00 C592.02,483.33 594.95,484.58 596.70,485.00 C598.45,485.42 599.23,484.80 600.50,484.50 C601.77,484.20 602.72,483.87 604.30,483.20 C605.88,482.53 607.88,481.20 610.00,480.50 C612.12,479.80 613.98,478.97 617.00,479.00 C620.02,479.03 623.32,479.08 628.10,480.70 C632.88,482.32 640.10,486.17 645.70,488.70 C651.30,491.23 656.12,493.77 661.70,495.90 C667.28,498.03 676.28,500.57 679.20,501.50" fill="none" stroke="#008000" stroke-width="2.2" stroke-dasharray="10.5,11" stroke-linejoin="round"/>
<path d="M399.80,523.50 C401.50,523.45 406.63,523.22 410.00,523.20 C413.37,523.18 415.62,523.35 420.00,523.40 C424.38,523.45 432.80,523.82 436.30,523.50 C439.80,523.18 439.40,522.25 441.00,521.50 C442.60,520.75 444.40,519.67 445.90,519.00 C447.40,518.33 448.67,517.87 450.00,517.50 C451.33,517.13 452.45,516.93 453.90,516.80 C455.35,516.67 457.02,516.67 458.70,516.70 C460.38,516.73 462.13,517.00 464.00,517.00 C465.87,517.00 468.07,517.12 469.90,516.70 C471.73,516.28 473.13,515.03 475.00,514.50 C476.87,513.97 479.02,513.45 481.10,513.50 C483.18,513.55 485.68,514.13 487.50,514.80 C489.32,515.47 490.75,516.80 492.00,517.50 C493.25,518.20 493.83,518.20 495.00,519.00 C496.17,519.80 497.47,521.57 499.00,522.30 C500.53,523.03 502.37,523.62 504.20,523.40 C506.03,523.18 507.78,522.48 510.00,521.00 C512.22,519.52 515.67,516.42 517.50,514.50 C519.33,512.58 519.75,510.88 521.00,509.50 C522.25,508.12 523.67,507.03 525.00,506.20 C526.33,505.37 527.67,504.73 529.00,504.50 C530.33,504.27 531.72,504.63 533.00,504.80 C534.28,504.97 535.67,505.80 536.70,505.50 C537.73,505.20 538.57,504.08 539.20,503.00 C539.83,501.92 540.15,500.40 540.50,499.00 C540.85,497.60 540.98,497.40 541.30,494.60 C541.62,491.80 542.05,486.30 542.40,482.20 C542.75,478.10 543.08,473.10 543.40,470.00 C543.72,466.90 544.02,466.93 544.30,463.60 C544.58,460.27 544.87,453.45 545.10,450.00 C545.33,446.55 545.43,447.63 545.70,442.90 C545.97,438.17 546.38,427.92 546.70,421.60 C547.02,415.28 547.33,409.43 547.60,405.00 C547.87,400.57 548.05,400.00 548.30,395.00 C548.55,390.00 548.82,381.70 549.10,375.00 C549.38,368.30 549.72,359.80 550.00,354.80 C550.28,349.80 550.53,348.13 550.80,345.00 C551.07,341.87 551.28,338.83 551.60,336.00 C551.92,333.17 552.33,330.25 552.70,328.00 C553.07,325.75 553.45,323.70 553.80,322.50 C554.15,321.30 554.47,320.47 554.80,320.80 C555.13,321.13 555.50,322.97 555.80,324.50 C556.10,326.03 556.30,327.42 556.60,330.00 C556.90,332.58 557.18,336.33 557.60,340.00 C558.02,343.67 558.63,348.00 559.10,352.00 C559.57,356.00 559.98,360.00 560.40,364.00 C560.82,368.00 561.23,372.33 561.60,376.00 C561.97,379.67 562.27,382.62 562.60,386.00 C562.93,389.38 562.98,391.47 563.60,396.30 C564.22,401.13 565.48,409.38 566.30,415.00 C567.12,420.62 567.80,425.50 568.50,430.00 C569.20,434.50 569.65,437.90 570.50,442.00 C571.35,446.10 572.60,450.77 573.60,454.60 C574.60,458.43 575.67,462.02 576.50,465.00 C577.33,467.98 577.77,469.83 578.60,472.50 C579.43,475.17 580.50,478.12 581.50,481.00 C582.50,483.88 583.60,487.05 584.60,489.80 C585.60,492.55 586.48,494.97 587.50,497.50 C588.52,500.03 589.70,502.92 590.70,505.00 C591.70,507.08 592.50,508.50 593.50,510.00 C594.50,511.50 595.62,512.95 596.70,514.00 C597.78,515.05 598.73,515.67 600.00,516.30 C601.27,516.93 602.63,517.58 604.30,517.80 C605.97,518.02 608.22,517.73 610.00,517.60 C611.78,517.47 612.52,516.88 615.00,517.00 C617.48,517.12 621.92,517.68 624.90,518.30 C627.88,518.92 629.97,519.90 632.90,520.70 C635.83,521.50 638.50,522.57 642.50,523.10 C646.50,523.63 652.63,524.03 656.90,523.90 C661.17,523.77 664.38,523.10 668.10,522.30 C671.82,521.50 677.35,519.63 679.20,519.10" fill="none" stroke="#ff8080" stroke-width="1.8" stroke-linejoin="round"/>
<path d="M399.80,523.90 C401.50,523.85 406.63,523.65 410.00,523.60 C413.37,523.55 415.62,523.57 420.00,523.60 C424.38,523.63 432.80,524.07 436.30,523.80 C439.80,523.53 439.40,522.73 441.00,522.00 C442.60,521.27 444.40,520.07 445.90,519.40 C447.40,518.73 448.67,518.32 450.00,518.00 C451.33,517.68 452.23,517.47 453.90,517.50 C455.57,517.53 457.87,517.93 460.00,518.20 C462.13,518.47 465.03,519.22 466.70,519.10 C468.37,518.98 468.93,518.17 470.00,517.50 C471.07,516.83 471.93,515.68 473.10,515.10 C474.27,514.52 475.67,514.27 477.00,514.00 C478.33,513.73 479.35,513.37 481.10,513.50 C482.85,513.63 485.68,514.13 487.50,514.80 C489.32,515.47 490.75,516.63 492.00,517.50 C493.25,518.37 493.83,519.12 495.00,520.00 C496.17,520.88 497.47,522.20 499.00,522.80 C500.53,523.40 502.37,523.82 504.20,523.60 C506.03,523.38 507.78,523.02 510.00,521.50 C512.22,519.98 515.75,516.33 517.50,514.50 C519.25,512.67 519.47,511.73 520.50,510.50 C521.53,509.27 522.55,508.18 523.70,507.10 C524.85,506.02 526.17,504.63 527.40,504.00 C528.63,503.37 530.00,503.33 531.10,503.30 C532.20,503.27 533.07,503.58 534.00,503.80 C534.93,504.02 535.83,504.88 536.70,504.60 C537.57,504.32 538.60,503.03 539.20,502.10 C539.80,501.17 539.98,500.25 540.30,499.00 C540.62,497.75 540.77,497.40 541.10,494.60 C541.43,491.80 541.93,486.30 542.30,482.20 C542.67,478.10 542.98,473.10 543.30,470.00 C543.62,466.90 543.92,466.93 544.20,463.60 C544.48,460.27 544.77,453.45 545.00,450.00 C545.23,446.55 545.33,447.63 545.60,442.90 C545.87,438.17 546.28,427.92 546.60,421.60 C546.92,415.28 547.23,409.43 547.50,405.00 C547.77,400.57 547.95,400.00 548.20,395.00 C548.45,390.00 548.72,381.70 549.00,375.00 C549.28,368.30 549.62,359.80 549.90,354.80 C550.18,349.80 550.43,348.13 550.70,345.00 C550.97,341.87 551.20,338.83 551.50,336.00 C551.80,333.17 552.22,330.08 552.50,328.00 C552.78,325.92 552.97,324.63 553.20,323.50 C553.43,322.37 553.67,321.12 553.90,321.20 C554.13,321.28 554.40,322.20 554.60,324.00 C554.80,325.80 554.95,329.33 555.10,332.00 C555.25,334.67 555.35,337.33 555.50,340.00 C555.65,342.67 555.75,345.33 556.00,348.00 C556.25,350.67 556.63,352.92 557.00,356.00 C557.37,359.08 557.80,363.17 558.20,366.50 C558.60,369.83 559.02,372.82 559.40,376.00 C559.78,379.18 560.15,382.70 560.50,385.60 C560.85,388.50 561.15,390.55 561.50,393.40 C561.85,396.25 562.13,399.62 562.60,402.70 C563.07,405.78 563.57,407.85 564.30,411.90 C565.03,415.95 566.07,421.95 567.00,427.00 C567.93,432.05 568.80,437.60 569.90,442.20 C571.00,446.80 572.50,450.80 573.60,454.60 C574.70,458.40 575.67,462.02 576.50,465.00 C577.33,467.98 577.77,469.83 578.60,472.50 C579.43,475.17 580.50,478.12 581.50,481.00 C582.50,483.88 583.60,487.05 584.60,489.80 C585.60,492.55 586.48,494.97 587.50,497.50 C588.52,500.03 589.70,502.92 590.70,505.00 C591.70,507.08 592.50,508.50 593.50,510.00 C594.50,511.50 595.62,512.95 596.70,514.00 C597.78,515.05 598.73,515.67 600.00,516.30 C601.27,516.93 602.63,517.55 604.30,517.80 C605.97,518.05 607.88,517.85 610.00,517.80 C612.12,517.75 614.52,517.42 617.00,517.50 C619.48,517.58 622.25,517.77 624.90,518.30 C627.55,518.83 629.97,519.90 632.90,520.70 C635.83,521.50 638.50,522.57 642.50,523.10 C646.50,523.63 652.63,524.03 656.90,523.90 C661.17,523.77 664.38,523.10 668.10,522.30 C671.82,521.50 677.35,519.63 679.20,519.10" fill="none" stroke="#ff0000" stroke-width="2.4" stroke-dasharray="11,11" stroke-linejoin="round"/>
<path d="M399.80,510.21 C401.09,510.42 404.97,511.07 407.55,511.46 C410.13,511.85 412.72,512.21 415.30,512.55 C417.88,512.89 420.47,513.21 423.05,513.51 C425.63,513.81 428.22,514.09 430.80,514.36 C433.38,514.63 435.97,514.87 438.55,515.11 C441.13,515.35 443.72,515.57 446.30,515.78 C448.88,515.99 451.47,516.19 454.05,516.38 C456.63,516.57 459.22,516.75 461.80,516.92 C464.38,517.10 466.97,517.26 469.55,517.41 C472.13,517.57 474.72,517.72 477.30,517.86 C479.88,518.00 482.47,518.13 485.05,518.26 C487.63,518.39 490.22,518.51 492.80,518.63 C495.38,518.74 497.97,518.86 500.55,518.96 C503.13,519.07 505.72,519.17 508.30,519.27 C510.88,519.37 513.47,519.46 516.05,519.55 C518.63,519.65 521.22,519.73 523.80,519.82 C526.38,519.90 528.97,519.98 531.55,520.06 C534.13,520.13 536.72,520.21 539.30,520.28 C541.88,520.35 544.47,520.42 547.05,520.49 C549.63,520.55 552.22,520.62 554.80,520.68 C557.38,520.74 559.97,520.80 562.55,520.86 C565.13,520.92 567.72,520.97 570.30,521.03 C572.88,521.08 575.47,521.13 578.05,521.18 C580.63,521.23 583.22,521.28 585.80,521.33 C588.38,521.38 590.97,521.42 593.55,521.47 C596.13,521.51 598.72,521.55 601.30,521.60 C603.88,521.64 606.47,521.68 609.05,521.72 C611.63,521.76 614.22,521.79 616.80,521.83 C619.38,521.87 621.97,521.90 624.55,521.94 C627.13,521.97 629.72,522.01 632.30,522.04 C634.88,522.07 637.47,522.10 640.05,522.14 C642.63,522.17 645.22,522.20 647.80,522.23 C650.38,522.26 652.97,522.28 655.55,522.31 C658.13,522.34 660.72,522.37 663.30,522.39 C665.88,522.42 668.47,522.44 671.05,522.47 C673.63,522.50 677.51,522.53 678.80,522.54" fill="none" stroke="#0000ff" stroke-width="2.0" stroke-dasharray="5,3" stroke-linejoin="round"/>
<path d="M399.80,524.20 C401.09,524.20 404.97,524.22 407.55,524.23 C410.13,524.24 412.72,524.25 415.30,524.26 C417.88,524.27 420.47,524.28 423.05,524.29 C425.63,524.30 428.22,524.31 430.80,524.32 C433.38,524.32 435.97,524.33 438.55,524.34 C441.13,524.35 443.72,524.35 446.30,524.36 C448.88,524.37 451.47,524.37 454.05,524.38 C456.63,524.38 459.22,524.39 461.80,524.40 C464.38,524.40 466.97,524.41 469.55,524.41 C472.13,524.42 474.72,524.42 477.30,524.43 C479.88,524.43 482.47,524.43 485.05,524.44 C487.63,524.44 490.22,524.45 492.80,524.45 C495.38,524.45 497.97,524.46 500.55,524.46 C503.13,524.47 505.72,524.47 508.30,524.47 C510.88,524.48 513.47,524.48 516.05,524.48 C518.63,524.49 521.22,524.49 523.80,524.49 C526.38,524.49 528.97,524.50 531.55,524.50 C534.13,524.50 536.72,524.51 539.30,524.51 C541.88,524.51 544.47,524.51 547.05,524.51 C549.63,524.52 552.22,524.52 554.80,524.52 C557.38,524.52 559.97,524.53 562.55,524.53 C565.13,524.53 567.72,524.53 570.30,524.53 C572.88,524.54 575.47,524.54 578.05,524.54 C580.63,524.54 583.22,524.54 585.80,524.55 C588.38,524.55 590.97,524.55 593.55,524.55 C596.13,524.55 598.72,524.55 601.30,524.56 C603.88,524.56 606.47,524.56 609.05,524.56 C611.63,524.56 614.22,524.56 616.80,524.56 C619.38,524.57 621.97,524.57 624.55,524.57 C627.13,524.57 629.72,524.57 632.30,524.57 C634.88,524.57 637.47,524.58 640.05,524.58 C642.63,524.58 645.22,524.58 647.80,524.58 C650.38,524.58 652.97,524.58 655.55,524.58 C658.13,524.58 660.72,524.59 663.30,524.59 C665.88,524.59 668.47,524.59 671.05,524.59 C673.63,524.59 677.51,524.59 678.80,524.59" fill="none" stroke="#000000" stroke-width="2.0" stroke-dasharray="5,3" stroke-linejoin="round"/>
</g>
<path d="M71.2,309.30 H92.1" stroke="#008000" stroke-width="2.2" stroke-dasharray="7.5,6.5"/>
<text x="94.70" y="312.30" font-size="8.5" text-anchor="start" >CST (FIT) forward</text>
<path d="M71.2,321.00 H92.1" stroke="#80c480" stroke-width="2.4"/>
<text x="94.70" y="324.00" font-size="8.5" text-anchor="start" >PyNEC (MoM) forward</text>
<path d="M71.2,332.70 H92.1" stroke="#ff0000" stroke-width="2.4" stroke-dasharray="7.5,6.5"/>
<text x="94.70" y="335.70" font-size="8.5" text-anchor="start" >CST (FIT) backward</text>
<path d="M71.2,344.40 H92.1" stroke="#ff8080" stroke-width="1.8"/>
<text x="94.70" y="347.40" font-size="8.5" text-anchor="start" >PyNEC (MoM) backward</text>
<path d="M71.2,356.10 H92.1" stroke="#0000ff" stroke-width="2.0" stroke-dasharray="7.5,6.5"/>
<text x="94.70" y="359.10" font-size="8.5" text-anchor="start" >8 resonators bound</text>
<path d="M71.2,367.80 H92.1" stroke="#000000" stroke-width="2.0" stroke-dasharray="7.5,6.5"/>
<text x="94.70" y="370.80" font-size="8.5" text-anchor="start" >Single dipole bound</text>
<path d="M411.9,313.70 H432.7" stroke="#008000" stroke-width="2.2" stroke-dasharray="7.5,6.5"/>
<text x="435.40" y="316.70" font-size="8.5" text-anchor="start" >CST (FIT) forward</text>
<path d="M411.9,325.42 H432.7" stroke="#80c480" stroke-width="2.4"/>
<text x="435.40" y="328.42" font-size="8.5" text-anchor="start" >PyNEC (MoM) forward</text>
<path d="M411.9,337.14 H432.7" stroke="#ff0000" stroke-width="2.4" stroke-dasharray="7.5,6.5"/>
<text x="435.40" y="340.14" font-size="8.5" text-anchor="start" >CST (FIT) backward</text>
<path d="M411.9,348.86 H432.7" stroke="#ff8080" stroke-width="1.8"/>
<text x="435.40" y="351.86" font-size="8.5" text-anchor="start" >PyNEC (MoM) backward</text>
<path d="M411.9,360.58 H432.7" stroke="#0000ff" stroke-width="2.0" stroke-dasharray="7.5,6.5"/>
<text x="435.40" y="363.58" font-size="8.5" text-anchor="start" >27 resonators bound</text>
<path d="M411.9,372.30 H432.7" stroke="#000000" stroke-width="2.0" stroke-dasharray="7.5,6.5"/>
<text x="435.40" y="375.30" font-size="8.5" text-anchor="start" >Single dipole bound</text>
<path d="M254,329.1 L264.1,331" stroke="#9b1c1c" stroke-width="1.3"/>
<path d="M314.8,339.2 L324.8,341.6" stroke="#9b1c1c" stroke-width="1.3"/>
<path d="M243.1,353.8 L253,355.8" stroke="#9b1c1c" stroke-width="1.3"/>
<path d="M306,357.7 L316,359.9" stroke="#9b1c1c" stroke-width="1.3"/>
<path d="M268.6,325 L278.7,326.5" stroke="#1c1cb0" stroke-width="1.3"/>
<path d="M259,349.6 L268.6,351.8" stroke="#1c1cb0" stroke-width="1.3"/>
<path d="M290.9,348.3 L300.5,350.5" stroke="#1c1cb0" stroke-width="1.3"/>
<ellipse cx="302.2" cy="327" rx="6.3" ry="3.1" fill="none" stroke="#101080" stroke-width="1.4"/>
<path d="M313.00,311.20 L309.16,312.54 L309.73,308.78 Z" fill="#1e9e1e"/>
<path d="M300.5,309.3 L309.44,310.66" stroke="#1e9e1e" stroke-width="1.2"/>
<path d="M297.10,315.20 L297.12,311.75 L300.07,313.45 Z" fill="#ff2020"/>
<path d="M300.5,309.3 L298.60,312.60" stroke="#ff2020" stroke-width="1.2"/>
<text x="310.8" y="309" font-size="12" style="fill:#3aa03a">E</text>
<path d="M311.40,300.10 h6" stroke="#3aa03a" stroke-width="0.9"/>
<text x="301.3" y="320.8" font-size="12" style="fill:#ff3030">k</text>
<path d="M301.00,312.60 h5.5" stroke="#ff3030" stroke-width="0.9"/>
<path d="M586.5,315.1 L594.7,316" stroke="#1e9e1e" stroke-width="1.3"/>
<path d="M578.2,328.2 L586.5,329.3" stroke="#1e9e1e" stroke-width="1.3"/>
<path d="M626.6,321.1 L634.8,322.4" stroke="#1e9e1e" stroke-width="1.3"/>
<path d="M616,334.3 L624.2,335.4" stroke="#1e9e1e" stroke-width="1.3"/>
<path d="M666.8,327.3 L675,328.8" stroke="#1e9e1e" stroke-width="1.3"/>
<path d="M603.8,347.6 L612.9,349.2" stroke="#1e9e1e" stroke-width="1.3"/>
<path d="M654,339.4 L662.2,341.2" stroke="#1e9e1e" stroke-width="1.3"/>
<path d="M647.2,354.3 L655.8,355.6" stroke="#1e9e1e" stroke-width="1.3"/>
<path d="M587.4,329.7 L594.7,331.2" stroke="#9b1c1c" stroke-width="1.3"/>
<path d="M578.2,343.4 L587,344.7" stroke="#9b1c1c" stroke-width="1.3"/>
<path d="M566.4,356.7 L575.5,358.5" stroke="#9b1c1c" stroke-width="1.3"/>
<path d="M604.3,362.9 L613.8,364.4" stroke="#9b1c1c" stroke-width="1.3"/>
<path d="M666.8,342.1 L675,343.8" stroke="#9b1c1c" stroke-width="1.3"/>
<path d="M654.9,355.6 L662.2,357.1" stroke="#9b1c1c" stroke-width="1.3"/>
<path d="M647.2,369.9 L656.4,371.3" stroke="#9b1c1c" stroke-width="1.3"/>
<path d="M601.1,325.1 L607.8,326.6" stroke="#1c1cb0" stroke-width="1.3"/>
<path d="M619.7,327.5 L633.9,328.4" stroke="#1c1cb0" stroke-width="1.3"/>
<path d="M576.1,335.2 L589.6,337.6" stroke="#1c1cb0" stroke-width="1.3"/>
<path d="M615.3,342.1 L626.6,343.8" stroke="#1c1cb0" stroke-width="1.3"/>
<path d="M577.3,348.9 L590.7,352.2" stroke="#1c1cb0" stroke-width="1.3"/>
<path d="M607.1,358.9 L620.8,358.9" stroke="#1c1cb0" stroke-width="1.3"/>
<path d="M633,358.4 L642.1,360.4" stroke="#1c1cb0" stroke-width="1.3"/>
<path d="M657.6,333.4 L671.7,333.4" stroke="#1c1cb0" stroke-width="1.3"/>
<path d="M657.6,348.5 L666.2,350.1" stroke="#1c1cb0" stroke-width="1.3"/>
<ellipse cx="570" cy="342.8" rx="4.9" ry="2.5" fill="none" stroke="#1a8a1a" stroke-width="1.35"/>
<ellipse cx="630.3" cy="336.6" rx="3.9" ry="2.1" fill="none" stroke="#7a1515" stroke-width="1.35"/>
<ellipse cx="619.7" cy="350.3" rx="4.7" ry="2.5" fill="none" stroke="#7a1515" stroke-width="1.35"/>
<path d="M648.30,314.20 L644.43,315.47 L645.07,311.73 Z" fill="#1e9e1e"/>
<path d="M635.9,312.1 L644.75,313.60" stroke="#1e9e1e" stroke-width="1.2"/>
<path d="M633.00,317.60 L632.90,314.15 L635.90,315.74 Z" fill="#ff2020"/>
<path d="M635.9,312.1 L634.40,314.95" stroke="#ff2020" stroke-width="1.2"/>
<text x="645.8" y="312" font-size="12" style="fill:#3aa03a">E</text>
<path d="M646.40,303.10 h6" stroke="#3aa03a" stroke-width="0.9"/>
<text x="636.6" y="323.8" font-size="12" style="fill:#ff3030">k</text>
<path d="M636.30,315.60 h5.5" stroke="#ff3030" stroke-width="0.9"/>
<circle cx="240.1" cy="63.6" r="6.2" fill="none" stroke="#ff2020" stroke-width="1.1" stroke-dasharray="2.3,2.7"/>
<circle cx="447.6" cy="93.3" r="6" fill="none" stroke="#ff2020" stroke-width="1.1" stroke-dasharray="2.3,2.7"/>
<path d="M242,70 L277,297" stroke="#ff3030" stroke-width="1" stroke-dasharray="3,2.5" fill="none"/>
<path d="M449,99 L478,296.5" stroke="#ff3030" stroke-width="1" stroke-dasharray="3,2.5" fill="none"/>
<path d="M273.6,289.8 L277,297 L280.2,289.3" stroke="#ff3030" stroke-width="1" fill="none"/>
<path d="M474.6,289.6 L478,296.5 L480.3,289.3" stroke="#ff3030" stroke-width="1" fill="none"/>
</svg>
</body></html>
